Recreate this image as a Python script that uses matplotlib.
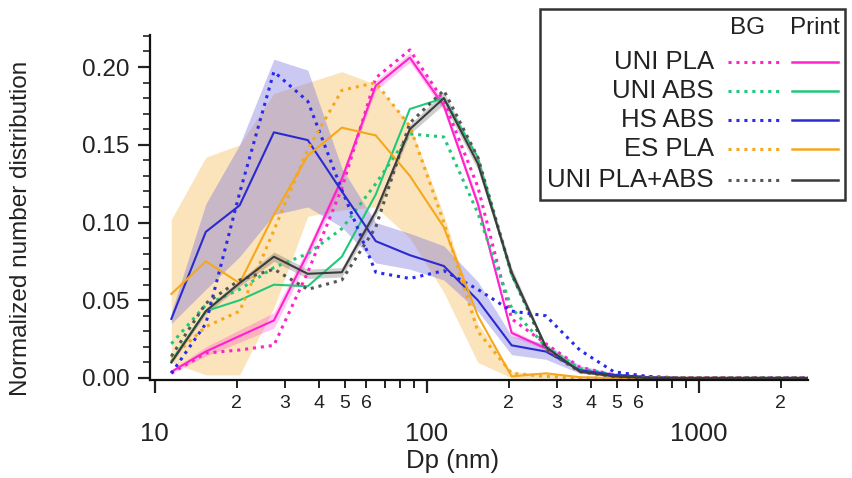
# Particle size distributions: background (dotted) vs printing (solid)
import matplotlib
matplotlib.use('Agg')
import matplotlib.pyplot as plt
from matplotlib.ticker import FixedLocator, MultipleLocator, FuncFormatter, NullFormatter
from matplotlib.lines import Line2D
from matplotlib.patches import Rectangle

plt.rcParams['font.family'] = ['Liberation Sans', 'DejaVu Sans']

# bin mid-points (nm)
dp = [11.5, 15.4, 20.5, 27.4, 36.5, 48.7, 64.9, 86.6, 115.5, 154,
      205, 274, 365, 487, 649, 866, 1155, 1540, 2054, 2738]

uni_pla_print = [0.004, 0.017, 0.027, 0.037, 0.080, 0.128, 0.188, 0.206, 0.175, 0.112,
                 0.029, 0.019, 0.005, 0.002, 0.0005, 0, 0, 0, 0, 0]
uni_pla_bg = [0.003, 0.016, 0.018, 0.021, 0.068, 0.122, 0.193, 0.211, 0.178, 0.123,
              0.038, 0.022, 0.007, 0.002, 0.0005, 0, 0, 0, 0, 0]
uni_abs_print = [0.011, 0.043, 0.050, 0.060, 0.059, 0.078, 0.118, 0.173, 0.180, 0.142,
                 0.066, 0.020, 0.005, 0.002, 0.0005, 0, 0, 0, 0, 0]
uni_abs_bg = [0.022, 0.047, 0.057, 0.071, 0.080, 0.096, 0.125, 0.157, 0.155, 0.106,
              0.045, 0.020, 0.006, 0.002, 0.0005, 0, 0, 0, 0, 0]
hs_abs_print = [0.038, 0.094, 0.111, 0.158, 0.153, 0.120, 0.088, 0.079, 0.072, 0.050,
                0.021, 0.017, 0.005, 0.002, 0.0005, 0, 0, 0, 0, 0]
hs_abs_bg = [0.003, 0.035, 0.119, 0.197, 0.178, 0.121, 0.068, 0.064, 0.069, 0.057,
             0.043, 0.040, 0.018, 0.004, 0.001, 0, 0, 0, 0, 0]
es_pla_print = [0.054, 0.075, 0.061, 0.105, 0.143, 0.161, 0.156, 0.130, 0.097, 0.040,
                0.001, 0.003, 0.0005, 0, 0, 0, 0, 0, 0, 0]
es_pla_bg = [0.013, 0.033, 0.043, 0.095, 0.147, 0.185, 0.190, 0.162, 0.100, 0.030,
             0.003, 0.001, 0, 0, 0, 0, 0, 0, 0, 0]
mix_print = [0.010, 0.043, 0.061, 0.078, 0.067, 0.068, 0.107, 0.160, 0.180, 0.138,
             0.068, 0.020, 0.004, 0.001, 0, 0, 0, 0, 0, 0]
mix_bg = [0.014, 0.048, 0.063, 0.070, 0.057, 0.063, 0.097, 0.164, 0.185, 0.142,
          0.067, 0.018, 0.004, 0.001, 0, 0, 0, 0, 0, 0]

# spread of the print runs (shaded)
hs_abs_lo = [0.035, 0.057, 0.078, 0.105, 0.110, 0.097, 0.074, 0.070, 0.063, 0.043,
             0.015, 0.012, 0.003, 0.001, 0, 0, 0, 0, 0, 0]
hs_abs_hi = [0.042, 0.112, 0.150, 0.205, 0.198, 0.135, 0.100, 0.093, 0.085, 0.062,
             0.027, 0.022, 0.008, 0.003, 0.001, 0, 0, 0, 0, 0]
es_pla_lo = [0.010, 0.002, 0.002, 0.045, 0.104, 0.108, 0.110, 0.090, 0.055, 0.010,
             0, 0, 0, 0, 0, 0, 0, 0, 0, 0]
es_pla_hi = [0.102, 0.142, 0.150, 0.183, 0.190, 0.197, 0.189, 0.163, 0.105, 0.035,
             0.004, 0.003, 0.001, 0, 0, 0, 0, 0, 0, 0]
uni_pla_sd = [0.001, 0.003, 0.004, 0.005, 0.004, 0.003, 0.003, 0.003, 0.003, 0.003,
              0.002, 0.001, 0, 0, 0, 0, 0, 0, 0, 0]
mix_sd = [0.001, 0.002, 0.002, 0.003, 0.003, 0.003, 0.003, 0.003, 0.004, 0.004,
          0.003, 0.001, 0, 0, 0, 0, 0, 0, 0, 0]

names = ['UNI PLA', 'UNI ABS', 'HS ABS', 'ES PLA', 'UNI PLA+ABS']
colors = ['#ff22cc', '#22c87a', '#2a2ad0', '#f5a81c', '#3c3c3c']
bg_colors = ['#ff22cc', '#22c87a', '#2a2aee', '#f5a81c', '#555555']
prints = [uni_pla_print, uni_abs_print, hs_abs_print, es_pla_print, mix_print]
bgs = [uni_pla_bg, uni_abs_bg, hs_abs_bg, es_pla_bg, mix_bg]

dot = (0, (1, 1.6))

fig = plt.figure(figsize=(8.53, 4.78), dpi=100)
ax = fig.add_axes([150/853, 1-380/478, 658/853, 345/478])

# shaded spreads
ax.fill_between(dp, es_pla_lo, es_pla_hi, color='#f7c46a', alpha=0.45, lw=0)
ax.fill_between(dp, hs_abs_lo, hs_abs_hi, color='#7068dc', alpha=0.36, lw=0)
ax.fill_between(dp, [v - s for v, s in zip(uni_pla_print, uni_pla_sd)],
                [v + s for v, s in zip(uni_pla_print, uni_pla_sd)],
                color='#ff22cc', alpha=0.25, lw=0)
ax.fill_between(dp, [v - s for v, s in zip(mix_print, mix_sd)],
                [v + s for v, s in zip(mix_print, mix_sd)],
                color='#3c3c3c', alpha=0.25, lw=0)

for i in range(len(names)):
    ax.plot(dp, bgs[i], color=bg_colors[i], lw=2.2, linestyle=dot)
    ax.plot(dp, prints[i], color=colors[i], lw=1.5)

ax.set_xscale('log')
ax.set_xlim(9.6, 2520)
ax.set_ylim(-0.0013, 0.2206)

# x ticks
ax.xaxis.set_major_locator(FixedLocator([10, 100, 1000]))
ax.xaxis.set_major_formatter(FuncFormatter(lambda v, p: '%d' % v))
minors = [m * d for d in (10, 100, 1000) for m in range(2, 10) if m * d < 2520]
ax.xaxis.set_minor_locator(FixedLocator(minors))
def minor_fmt(v, p):
    lead = int(str(int(round(v)))[0])
    return str(lead) if lead <= 6 else ''
ax.xaxis.set_minor_formatter(FuncFormatter(minor_fmt))

# y ticks
ax.yaxis.set_major_locator(MultipleLocator(0.05))
ax.yaxis.set_minor_locator(MultipleLocator(0.01))
ax.yaxis.set_major_formatter(FuncFormatter(lambda v, p: '%.2f' % v))
ax.yaxis.set_minor_formatter(NullFormatter())

ax.tick_params(axis='x', which='major', direction='out', length=9, width=1.6,
               pad=21, labelsize=18.5, colors='#222222')
ax.tick_params(axis='x', which='minor', direction='out', length=6, width=1.4,
               pad=5, labelsize=14, colors='#222222')
ax.tick_params(axis='y', which='major', direction='out', length=9, width=1.6,
               pad=6, labelsize=17.5, colors='#222222')
ax.tick_params(axis='y', which='minor', direction='out', length=5, width=1.2,
               colors='#222222')

for s in ['top', 'right']:
    ax.spines[s].set_visible(False)
for s in ['left', 'bottom']:
    ax.spines[s].set_linewidth(1.6)
    ax.spines[s].set_color('#111111')

ax.set_xlabel('Dp (nm)', fontsize=18.5, color='#222222')
ax.xaxis.set_label_coords(0.46, -0.2)
ax.set_ylabel('Normalized number distribution', fontsize=17.5, color='#222222')
ax.yaxis.set_label_coords(-0.18, 0.44)

# legend box drawn by hand (BG dotted / Print solid)
def fx(x):
    return x / 853
def fy(y):
    return 1 - y / 478

fig.add_artist(Rectangle((fx(540), fy(200)), fx(845) - fx(540), fy(9) - fy(200),
                         transform=fig.transFigure, fill=False, lw=1.8, ec='#333333'))
fig.text(fx(748), fy(28), 'BG', fontsize=17.5, ha='center', va='center', color='#222222')
fig.text(fx(815), fy(28), 'Print', fontsize=17.5, ha='center', va='center', color='#222222')
rows_y = [62, 91, 120, 149, 180]
for i in range(len(names)):
    y = rows_y[i]
    fig.text(fx(714), fy(y), names[i], fontsize=18.5, ha='right', va='center',
             color='#222222')
    fig.add_artist(Line2D([fx(728), fx(781)], [fy(y), fy(y)], transform=fig.transFigure,
                          color=bg_colors[i], lw=2.2, linestyle=dot))
    fig.add_artist(Line2D([fx(792), fx(838)], [fy(y), fy(y)], transform=fig.transFigure,
                          color=colors[i], lw=1.8))

fig.savefig('out.png', dpi=100)
